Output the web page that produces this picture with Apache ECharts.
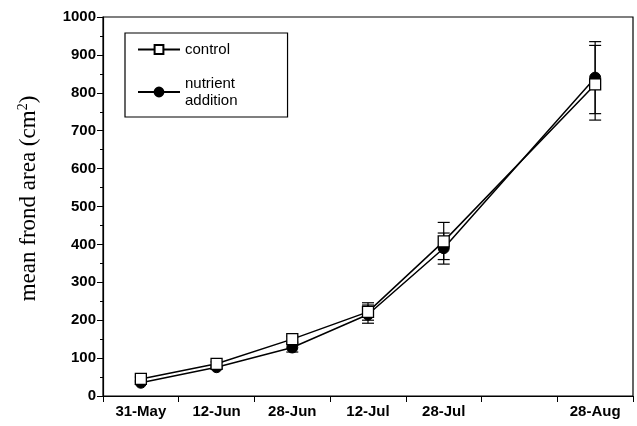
<!DOCTYPE html>
<html>
<head>
<meta charset="utf-8">
<script src="https://cdn.jsdelivr.net/npm/echarts@6/dist/echarts.min.js"></script>
<style>html,body{margin:0;padding:0;background:#fff}#c{width:637px;height:426px}</style>
</head>
<body>
<div id="c"></div>
<script>
// tick labels (blank slot between 28-Jul and 28-Aug as in the original axis)
var categories = ['31-May', '12-Jun', '28-Jun', '12-Jul', '28-Jul', '', '28-Aug'];
var yTicks = [0, 100, 200, 300, 400, 500, 600, 700, 800, 900, 1000];

// mean frond area (cm2)
var controlMean  = [45, 85, 150, 222, 408, null, 822];
var controlHigh  = [50, 90, 158, 246, 458, null, 925];
var controlLow   = [40, 80, 142, 200, 360, null, 728];

var nutrientMean = [35, 76, 128, 215, 390, null, 840];
var nutrientHigh = [39, 80, 138, 240, 430, null, 935];
var nutrientLow  = [31, 72, 116, 192, 348, null, 745];

function errData(lo, hi) {
  var out = [];
  for (var i = 0; i < lo.length; i++) {
    if (lo[i] != null) out.push([i, lo[i], hi[i]]);
  }
  return out;
}

function renderErr(params, api) {
  var x = api.value(0), lo = api.value(1), hi = api.value(2);
  var pH = api.coord([x, hi]), pL = api.coord([x, lo]);
  var w = 6;
  var st = { stroke: '#000', lineWidth: 1.2 };
  return {
    type: 'group',
    children: [
      { type: 'line', shape: { x1: pH[0], y1: pH[1], x2: pL[0], y2: pL[1] }, style: st },
      { type: 'line', shape: { x1: pH[0] - w, y1: pH[1], x2: pH[0] + w, y2: pH[1] }, style: st },
      { type: 'line', shape: { x1: pL[0] - w, y1: pL[1], x2: pL[0] + w, y2: pL[1] }, style: st }
    ]
  };
}

var chart = echarts.init(document.getElementById('c'), null, { renderer: 'canvas' });
var tickFont = { fontFamily: 'Liberation Sans', fontWeight: 'bold', fontSize: 15, color: '#000' };

chart.setOption({
  animation: false,
  backgroundColor: '#fff',
  grid: { left: 103, right: 4, top: 17, bottom: 30, show: true, borderColor: '#000', borderWidth: 1.2 },
  legend: {
    orient: 'vertical',
    left: 125, top: 33,
    data: ['control', 'nutrient\naddition'],
    borderColor: '#000', borderWidth: 1.2,
    padding: [8, 50, 8, 12],
    itemWidth: 42, itemHeight: 11, itemGap: 17,
    textStyle: { fontFamily: 'Liberation Sans', fontSize: 15, color: '#000', lineHeight: 17 }
  },
  xAxis: {
    type: 'category',
    data: categories,
    boundaryGap: true,
    axisLine: { lineStyle: { color: '#000', width: 1.2 } },
    axisTick: { show: true, alignWithLabel: false, length: 6, lineStyle: { color: '#000' } },
    axisLabel: Object.assign({ margin: 8, interval: 0 }, tickFont),
    splitLine: { show: false }
  },
  yAxis: {
    type: 'value',
    min: yTicks[0], max: yTicks[yTicks.length - 1], interval: 100,
    name: '{a|mean frond area (cm}{s|2}{a|)}',
    nameLocation: 'middle',
    nameGap: 62,
    nameTextStyle: {
      padding: [0, 0, 0, 16],
      rich: {
        a: { fontFamily: 'Liberation Serif', fontSize: 23, color: '#000' },
        s: { fontFamily: 'Liberation Serif', fontSize: 14, color: '#000', verticalAlign: 'bottom', padding: [0, 0, 11, 0] }
      }
    },
    axisLine: { show: true, lineStyle: { color: '#000', width: 1.2 } },
    axisTick: { show: true, length: 6, lineStyle: { color: '#000' } },
    minorTick: { show: true, splitNumber: 2, length: 3, lineStyle: { color: '#000' } },
    axisLabel: Object.assign({ margin: 7, formatter: function (v) { return String(v); } }, tickFont),
    splitLine: { show: false }
  },
  series: [
    {
      name: 'controlErr', type: 'custom', renderItem: renderErr,
      data: errData(controlLow, controlHigh), z: 1, silent: true
    },
    {
      name: 'nutrientErr', type: 'custom', renderItem: renderErr,
      data: errData(nutrientLow, nutrientHigh), z: 1, silent: true
    },
    {
      name: 'nutrient\naddition', type: 'line', data: nutrientMean, connectNulls: true,
      symbol: 'circle', symbolSize: 11,
      lineStyle: { color: '#000', width: 1.5 },
      itemStyle: { color: '#000', borderColor: '#000', borderWidth: 1 },
      z: 2
    },
    {
      name: 'control', type: 'line', data: controlMean, connectNulls: true,
      symbol: 'rect', symbolSize: 11,
      lineStyle: { color: '#000', width: 1.5 },
      itemStyle: { color: '#fff', borderColor: '#000', borderWidth: 1.3 },
      z: 3
    }
  ]
});
</script>
</body>
</html>
